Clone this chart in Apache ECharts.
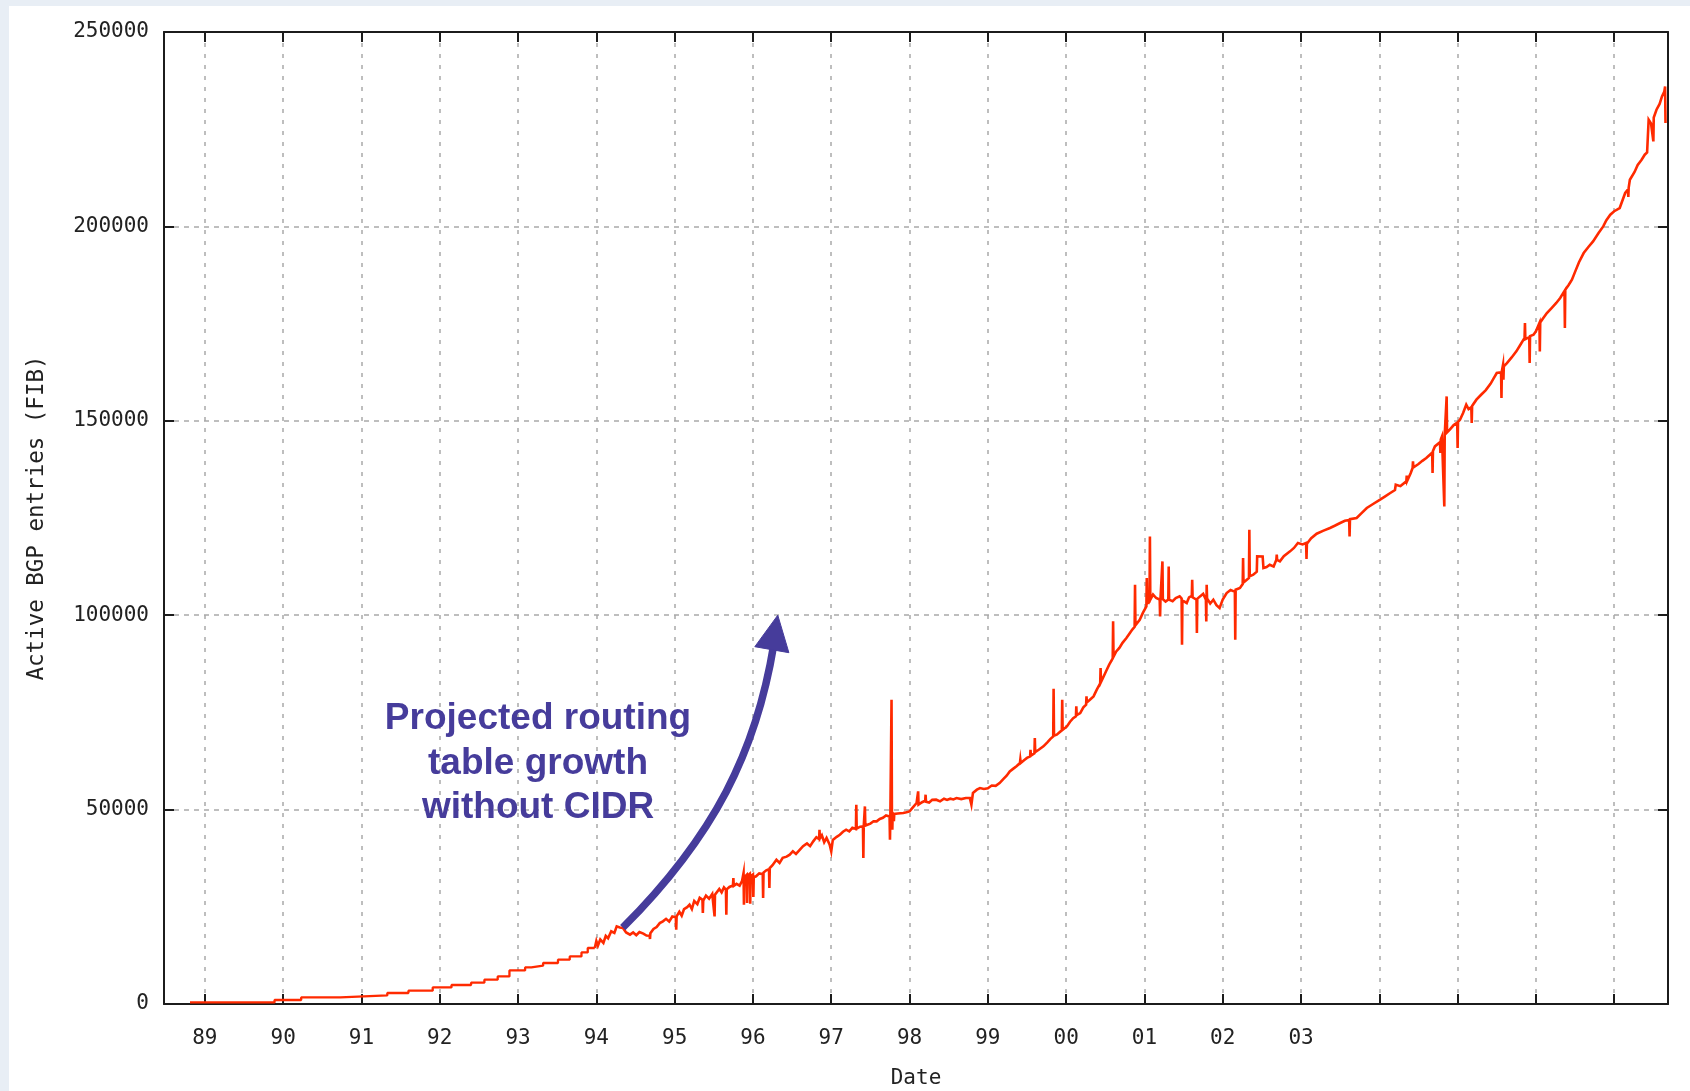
<!DOCTYPE html>
<html>
<head>
<meta charset="utf-8">
<title>Active BGP entries (FIB)</title>
<script src="https://cdn.jsdelivr.net/npm/echarts@6/dist/echarts.min.js"></script>
<style>
  html, body { margin: 0; padding: 0; width: 1690px; height: 1091px; overflow: hidden; background: #e8eef5; }
  #sheet { position: absolute; left: 9px; top: 6px; right: 0; bottom: 0; background: #ffffff; }
  #chart { position: absolute; left: 0; top: 0; width: 1690px; height: 1091px; }
</style>
</head>
<body>
<div id="sheet"></div>
<div id="chart"></div>
<script>
// ---- Axis ticks -------------------------------------------------------------
const yearTicks = [1989, 1990, 1991, 1992, 1993, 1994, 1995, 1996, 1997, 1998,
                   1999, 2000, 2001, 2002, 2003, 2004, 2005, 2006, 2007];
const yearLabels = ['89', '90', '91', '92', '93', '94', '95', '96', '97', '98',
                    '99', '00', '01', '02', '03'];
const entryTicks = [0, 50000, 100000, 150000, 200000, 250000];

// ---- Active BGP entries: [year, entries] --------------------------------------
// Monthly snapshots, drawn as steps
const fibSteps1988to1993 = [
  [1988.81, 410], [1989.89, 1030], [1990.23, 1700], [1990.73, 2200], [1991.33, 2830],
  [1991.60, 3420], [1991.91, 4270], [1992.15, 4890], [1992.40, 5480], [1992.57, 6250],
  [1992.74, 7100], [1992.89, 8640], [1993.09, 9410], [1993.17, 9850], [1993.32, 10550],
  [1993.51, 11400], [1993.66, 12240], [1993.81, 13270], [1993.89, 14400], [1993.98, 14400]
];

// Daily samples
const fib1994to1996 = [
  [1993.98, 14400], [1994.00, 16200], [1994.02, 15000], [1994.05, 16600], [1994.09, 15700],
  [1994.12, 17500], [1994.15, 16900], [1994.19, 18700], [1994.23, 18300], [1994.26, 19970],
  [1994.30, 19700], [1994.34, 19540], [1994.38, 18400], [1994.43, 17830], [1994.47, 18400],
  [1994.51, 17700], [1994.55, 18500], [1994.60, 18090], [1994.64, 17600], [1994.68, 17570],
  [1994.685, 16710], [1994.69, 18200], [1994.73, 19300], [1994.77, 19800], [1994.81, 20800],
  [1994.85, 21260], [1994.89, 21900], [1994.93, 21200], [1994.97, 22500], [1995.015, 22300],
  [1995.02, 19110], [1995.025, 22540], [1995.06, 23700], [1995.09, 22700], [1995.12, 24400],
  [1995.16, 24900], [1995.19, 25540], [1995.22, 24400], [1995.25, 26500], [1995.29, 25700],
  [1995.32, 27300], [1995.355, 26830], [1995.36, 23400], [1995.365, 26600], [1995.40, 27900],
  [1995.44, 27100], [1995.48, 28300], [1995.505, 27800], [1995.51, 22540], [1995.515, 28100],
  [1995.53, 28550], [1995.57, 29600], [1995.60, 28700], [1995.63, 30000], [1995.655, 29400],
  [1995.66, 22970], [1995.665, 29500], [1995.70, 30100], [1995.745, 30500], [1995.75, 32410],
  [1995.755, 30400], [1995.79, 30900], [1995.83, 30430], [1995.86, 31600], [1995.88, 33700],
  [1995.885, 25540], [1995.89, 32600], [1995.92, 33200], [1995.925, 26000], [1995.93, 33000],
  [1995.96, 33500], [1995.965, 25800], [1995.97, 32800], [1996.00, 33300], [1996.005, 27500],
  [1996.01, 32600], [1996.04, 32840], [1996.08, 33600], [1996.125, 33400], [1996.13, 27260],
  [1996.135, 33800], [1996.17, 34400], [1996.205, 34700], [1996.21, 29840], [1996.215, 34980],
  [1996.25, 35700], [1996.30, 37110], [1996.34, 36300], [1996.38, 37600], [1996.43, 37900],
  [1996.47, 38400], [1996.51, 39300], [1996.55, 38600], [1996.60, 39690], [1996.64, 40600],
  [1996.69, 41300], [1996.73, 40600], [1996.77, 41830], [1996.81, 42900], [1996.845, 42400],
  [1996.85, 44830], [1996.855, 42600], [1996.88, 43400], [1996.91, 41600], [1996.94, 42700],
  [1996.98, 40970]
];

const fib1997to1999 = [
  [1997.00, 39250], [1997.02, 42200], [1997.07, 43000], [1997.11, 43540], [1997.15, 44300],
  [1997.19, 44830], [1997.23, 44400], [1997.27, 45300], [1997.315, 45000], [1997.32, 51260],
  [1997.325, 45100], [1997.37, 45600], [1997.405, 45680], [1997.41, 37550], [1997.415, 45700],
  [1997.425, 45800], [1997.43, 50820], [1997.435, 45900], [1997.50, 46400], [1997.54, 47000],
  [1997.58, 46970], [1997.62, 47600], [1997.66, 47900], [1997.70, 48500], [1997.745, 48250],
  [1997.75, 42260], [1997.755, 48300], [1997.765, 48400], [1997.77, 78270], [1997.775, 48600],
  [1997.78, 44830], [1997.785, 49300], [1997.80, 47000], [1997.805, 48900], [1997.85, 49000],
  [1997.92, 49120], [1997.96, 49300], [1998.00, 49540], [1998.04, 50500], [1998.09, 51700],
  [1998.105, 51500], [1998.11, 54680], [1998.115, 51300], [1998.16, 51900], [1998.20, 52300],
  [1998.205, 53830], [1998.21, 52000], [1998.25, 51800], [1998.29, 52500], [1998.34, 52550],
  [1998.39, 52120], [1998.44, 52800], [1998.48, 52500], [1998.52, 52800], [1998.56, 52600],
  [1998.60, 52970], [1998.66, 52700], [1998.72, 53000], [1998.77, 52970], [1998.79, 51260],
  [1998.81, 54300], [1998.86, 55120], [1998.90, 55550], [1998.95, 55300], [1999.00, 55500],
  [1999.05, 56200], [1999.10, 56100], [1999.15, 56830], [1999.20, 57900], [1999.24, 58700],
  [1999.28, 59830], [1999.33, 60600], [1999.37, 61200], [1999.41, 61980], [1999.415, 62830],
  [1999.42, 62000], [1999.47, 62800], [1999.50, 63300], [1999.54, 63690], [1999.545, 65400],
  [1999.55, 63900], [1999.595, 64500], [1999.60, 68420], [1999.605, 64800], [1999.65, 65400],
  [1999.71, 66260], [1999.76, 67300], [1999.80, 68200], [1999.835, 68800], [1999.84, 81100],
  [1999.845, 69000], [1999.88, 69270], [1999.945, 70400], [1999.95, 78270], [1999.955, 70500],
  [1999.98, 71000]
];

const fib2000to2002 = [
  [2000.01, 71400], [2000.05, 72600], [2000.09, 73500], [2000.125, 74000], [2000.13, 76550],
  [2000.135, 74300], [2000.18, 74840], [2000.22, 76300], [2000.255, 77000], [2000.26, 79120],
  [2000.265, 77600], [2000.30, 78200], [2000.35, 79120], [2000.39, 80800], [2000.435, 82500],
  [2000.44, 86420], [2000.445, 82800], [2000.47, 83850], [2000.51, 85600], [2000.55, 87300],
  [2000.595, 88900], [2000.60, 98410], [2000.605, 89300], [2000.64, 90690], [2000.68, 91600],
  [2000.72, 92900], [2000.77, 94130], [2000.81, 95300], [2000.845, 96300], [2000.875, 97000],
  [2000.88, 107850], [2000.885, 97400], [2000.94, 98840], [2000.98, 100600], [2001.025, 102270],
  [2001.03, 109570], [2001.035, 103000], [2001.065, 103500], [2001.07, 120270], [2001.075, 104000],
  [2001.11, 105300], [2001.15, 104420], [2001.195, 104000], [2001.20, 99700], [2001.205, 104200],
  [2001.225, 104300], [2001.23, 113840], [2001.235, 104100], [2001.27, 103500], [2001.305, 103990],
  [2001.31, 112550], [2001.315, 104000], [2001.36, 103600], [2001.40, 104400], [2001.45, 104840],
  [2001.475, 104300], [2001.48, 92410], [2001.485, 103800], [2001.54, 103140], [2001.57, 104600],
  [2001.605, 105000], [2001.61, 109130], [2001.615, 104600], [2001.665, 104000], [2001.67, 95420],
  [2001.675, 104200], [2001.71, 104840], [2001.75, 105500], [2001.785, 104000], [2001.79, 98410],
  [2001.795, 107850], [2001.80, 104300], [2001.84, 103000], [2001.88, 103990], [2001.92, 102600],
  [2001.96, 101850], [2002.00, 104000], [2002.05, 105710], [2002.10, 106500], [2002.155, 106000],
  [2002.16, 93700], [2002.165, 106560], [2002.22, 107000], [2002.255, 108000], [2002.26, 114710],
  [2002.265, 108400], [2002.30, 109000], [2002.335, 109600], [2002.34, 121990], [2002.345, 110000],
  [2002.39, 110410], [2002.435, 111200], [2002.44, 115120], [2002.51, 115100], [2002.52, 112140],
  [2002.56, 112400], [2002.60, 112990], [2002.65, 112550], [2002.685, 114280], [2002.69, 115560],
  [2002.695, 114200], [2002.73, 113840], [2002.78, 115200], [2002.86, 116420], [2002.91, 117300],
  [2002.96, 118570]
];

const fib2003to2007 = [
  [2003.02, 118200], [2003.065, 118570], [2003.07, 114450], [2003.075, 118400], [2003.13, 119800],
  [2003.20, 120960], [2003.28, 121700], [2003.37, 122430], [2003.43, 123000], [2003.50, 123710],
  [2003.56, 124300], [2003.615, 124500], [2003.62, 120270], [2003.625, 124700], [2003.71, 125000],
  [2003.77, 126200], [2003.84, 127570], [2003.92, 128600], [2004.01, 129710], [2004.07, 130500],
  [2004.14, 131430], [2004.20, 132200], [2004.21, 133570], [2004.27, 133200], [2004.345, 134420],
  [2004.35, 135880], [2004.355, 134500], [2004.40, 136500], [2004.425, 137860], [2004.43, 139570],
  [2004.435, 138000], [2004.50, 138900], [2004.55, 139700], [2004.60, 140430], [2004.675, 141800],
  [2004.68, 136570], [2004.685, 142200], [2004.71, 143420], [2004.775, 144500], [2004.78, 141720],
  [2004.785, 145200], [2004.80, 145990], [2004.825, 146000], [2004.83, 127980], [2004.835, 146200],
  [2004.855, 146600], [2004.86, 156270], [2004.865, 147000], [2004.90, 147710], [2004.95, 148900],
  [2004.995, 149500], [2005.00, 143000], [2005.005, 149700], [2005.03, 150280], [2005.07, 152000],
  [2005.11, 154140], [2005.14, 153000], [2005.175, 153500], [2005.18, 149430], [2005.185, 153800],
  [2005.24, 155430], [2005.30, 156700], [2005.36, 157900], [2005.42, 159500], [2005.46, 160900],
  [2005.50, 162290], [2005.555, 162500], [2005.56, 155860], [2005.565, 162800], [2005.58, 164430],
  [2005.585, 160570], [2005.59, 164000], [2005.63, 164860], [2005.69, 166300], [2005.75, 167860],
  [2005.80, 169500], [2005.855, 171300], [2005.86, 175150], [2005.865, 171000], [2005.915, 171500],
  [2005.92, 164860], [2005.925, 171800], [2005.97, 172150], [2006.00, 173000], [2006.045, 175150],
  [2006.05, 167860], [2006.055, 175300], [2006.09, 176300], [2006.14, 177730], [2006.20, 179000],
  [2006.26, 180300], [2006.31, 181600], [2006.365, 183400], [2006.37, 173870], [2006.375, 183720],
  [2006.42, 185000], [2006.46, 186290], [2006.50, 188300], [2006.55, 190800], [2006.61, 193150],
  [2006.67, 194700], [2006.73, 196150], [2006.80, 198300], [2006.86, 200000], [2006.90, 201600],
  [2006.95, 203010], [2007.00, 203900], [2007.07, 204730], [2007.14, 208590], [2007.175, 209500],
  [2007.18, 207600], [2007.185, 210000], [2007.20, 212010], [2007.26, 214000], [2007.30, 215800],
  [2007.35, 217150], [2007.39, 218440], [2007.42, 219000], [2007.44, 227440], [2007.47, 226500],
  [2007.495, 226000], [2007.50, 221870], [2007.505, 228000], [2007.54, 230010], [2007.58, 231500],
  [2007.61, 233440], [2007.64, 234700], [2007.65, 236010], [2007.655, 226580]
];

// ---- "Without CIDR" projection arrow, in [year, entries] --------------------
// Cubic curve: start, control 1, control 2, end of the shaft
const projectionCurve = [[1994.337, 19620], [1995.511, 43260], [1996.043, 65020], [1996.266, 92410]];
// Arrow head: tip, left corner, right corner
const projectionHead = [[1996.317, 100000], [1996.024, 91900], [1996.459, 90360]];
const projectionLabelAt = [1993.255, 61800];
const projectionLabel = 'Projected routing\ntable growth\nwithout CIDR';

// ---- Styling -------------------------------------------------------------------
const X_MIN = 1988.478;
const X_MAX = 2007.687;
const LINE_RED = '#ff2a00';
const NOTE_BLUE = '#463c9b';
const INK = '#1c1c1c';
const GRID_GREY = '#a9a9a9';
const MONO = '"DejaVu Sans Mono", "Liberation Mono", monospace';

const chart = echarts.init(document.getElementById('chart'), null, { renderer: 'canvas' });

const borderLine = { show: true, onZero: false, lineStyle: { color: INK, width: 2 } };
const innerTick = { show: true, inside: true, length: 10, lineStyle: { color: INK, width: 2 } };

chart.setOption({
  animation: false,
  backgroundColor: 'transparent',
  grid: { left: 164, right: 22, top: 32, bottom: 87, containLabel: false, outerBoundsMode: 'none' },
  xAxis: [
    {
      type: 'value', min: X_MIN, max: X_MAX, position: 'bottom',
      axisLine: borderLine,
      axisTick: Object.assign({}, innerTick, { customValues: yearTicks }),
      axisLabel: {
        customValues: yearTicks.slice(0, yearLabels.length),
        formatter: v => yearLabels[Math.round(v) - yearTicks[0]] || '',
        margin: 24, color: '#222', fontFamily: MONO, fontSize: 21
      },
      splitLine: { show: true, lineStyle: { color: GRID_GREY, width: 1.5, type: [4, 7] } },
      name: 'Date', nameLocation: 'middle', nameGap: 64,
      nameTextStyle: { color: '#222', fontFamily: MONO, fontSize: 21 }
    },
    {
      type: 'value', min: X_MIN, max: X_MAX, position: 'top', z: 5,
      axisLine: borderLine,
      axisTick: Object.assign({}, innerTick, { customValues: yearTicks }),
      axisLabel: { show: false },
      splitLine: { show: false }
    }
  ],
  yAxis: [
    {
      type: 'value', min: entryTicks[0], max: entryTicks[entryTicks.length - 1],
      interval: entryTicks[1] - entryTicks[0], position: 'left',
      axisLine: borderLine,
      axisTick: innerTick,
      axisLabel: { margin: 15, color: '#222', fontFamily: MONO, fontSize: 21,
                   formatter: v => String(v) },
      splitLine: { show: true, showMinLine: false, showMaxLine: false,
                   lineStyle: { color: GRID_GREY, width: 1.5, type: [5, 5] } },
      name: 'Active BGP entries (FIB)', nameLocation: 'middle', nameGap: 115,
      nameTextStyle: { color: '#222', fontFamily: MONO, fontSize: 22.5 }
    },
    {
      type: 'value', min: entryTicks[0], max: entryTicks[entryTicks.length - 1],
      interval: entryTicks[1] - entryTicks[0], position: 'right', z: 5,
      axisLine: borderLine,
      axisTick: innerTick,
      axisLabel: { show: false },
      splitLine: { show: false }
    }
  ],
  series: [
    {
      name: 'monthly', type: 'line', xAxisIndex: 0, yAxisIndex: 0,
      data: fibSteps1988to1993, step: 'end', symbol: 'none', z: 3,
      lineStyle: { color: LINE_RED, width: 2.3 }
    },
    {
      name: 'daily', type: 'line', xAxisIndex: 0, yAxisIndex: 0,
      data: [].concat(fib1994to1996, fib1997to1999, fib2000to2002, fib2003to2007),
      symbol: 'none', z: 3,
      lineStyle: { color: LINE_RED, width: 2.6, join: 'miter' }
    }
  ]
});

// Annotation placed in data space and converted through the grid's scales
const px = p => chart.convertToPixel({ xAxisIndex: 0, yAxisIndex: 0 }, p);
const c = projectionCurve.map(px);
const head = projectionHead.map(px);
const labelPos = px(projectionLabelAt);

chart.setOption({
  graphic: [
    {
      type: 'bezierCurve', z: 20, silent: true,
      shape: { x1: c[0][0], y1: c[0][1], cpx1: c[1][0], cpy1: c[1][1],
               cpx2: c[2][0], cpy2: c[2][1], x2: c[3][0], y2: c[3][1] },
      style: { stroke: NOTE_BLUE, lineWidth: 7.5, fill: null, lineCap: 'butt' }
    },
    {
      type: 'polygon', z: 21, silent: true,
      shape: { points: head },
      style: { fill: NOTE_BLUE, stroke: NOTE_BLUE, lineWidth: 1 }
    },
    {
      type: 'text', z: 22, silent: true,
      x: labelPos[0], y: labelPos[1],
      style: {
        text: projectionLabel, fill: NOTE_BLUE,
        fontFamily: '"Liberation Sans", Arial, Helvetica, sans-serif',
        fontWeight: 'bold', fontSize: 37, lineHeight: 44.5,
        align: 'center', verticalAlign: 'middle'
      }
    }
  ]
});
</script>
</body>
</html>
